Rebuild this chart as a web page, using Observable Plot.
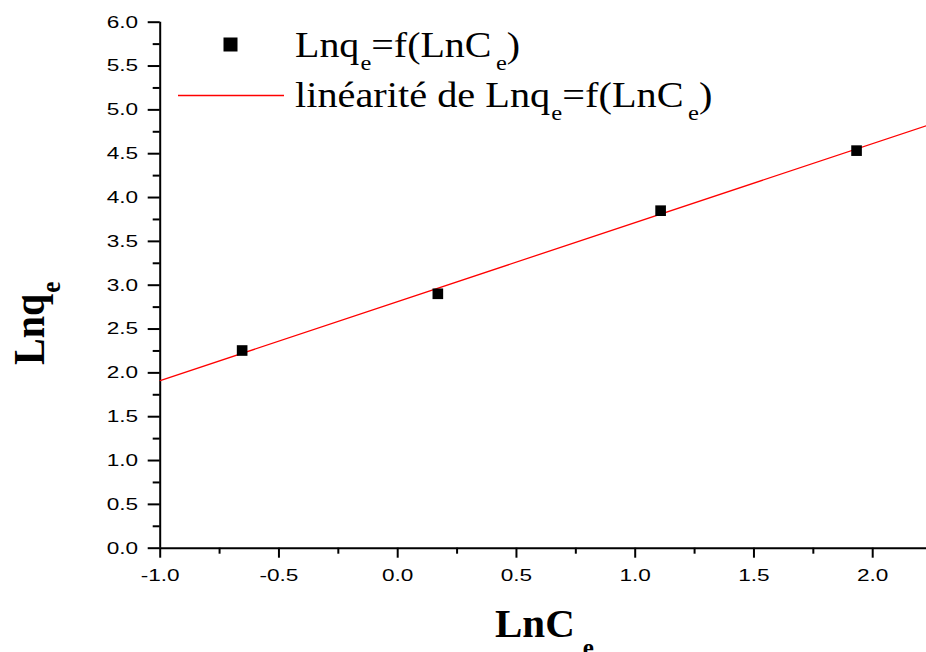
<!DOCTYPE html>
<html>
<head>
<meta charset="utf-8">
<script src="https://cdn.jsdelivr.net/npm/d3@7"></script>
<script src="https://cdn.jsdelivr.net/npm/@observablehq/plot@0.6"></script>
<style>
  html, body { margin: 0; padding: 0; background: #fff; }
  #chart svg { display: block; }
</style>
</head>
<body>
<div id="chart"></div>
<script>
// Data
const lnCe = [-0.655, 0.169, 1.107, 1.932];
const lnQe = [2.255, 2.902, 3.850, 4.535];
// Fitted line endpoints
const fitX = [-1.0, 2.2265];
const fitY = [1.912, 4.82];
// Axis ticks
const xTicks = [-1.0, -0.5, 0.0, 0.5, 1.0, 1.5, 2.0];
const xMinorTicks = [-0.75, -0.25, 0.25, 0.75, 1.25, 1.75];
const yTicks = [0.0, 0.5, 1.0, 1.5, 2.0, 2.5, 3.0, 3.5, 4.0, 4.5, 5.0, 5.5, 6.0];
const yMinorTicks = [0.25, 0.75, 1.25, 1.75, 2.25, 2.75, 3.25, 3.75, 4.25, 4.75, 5.25, 5.75];

const points = lnCe.map((x, i) => ({x, y: lnQe[i]}));
const fit = fitX.map((x, i) => ({x, y: fitY[i]}));

const fmt = d => d3.format(".1f")(d).replace("\u2212", "-");
const tickFont = {fontSize: 17, fontFamily: "'Liberation Sans', Arial, sans-serif"};

const plot = Plot.plot({
  width: 926,
  height: 652,
  marginLeft: 159.7,
  marginRight: 0,
  marginTop: 21.7,
  marginBottom: 104.3,
  style: {background: "#fff", color: "#000", fontFamily: "'Liberation Sans', Arial, sans-serif", fontSize: "17px", overflow: "visible"},
  x: {domain: [-1.0, 2.2265]},
  y: {domain: [0, 6]},
  marks: [
    Plot.axisY({ticks: yTicks, tickSize: 12, tickPadding: 10, strokeWidth: 2, tickFormat: fmt, label: null, ...tickFont, fill: "#000"}),
    Plot.axisY({ticks: yMinorTicks, tickSize: 7, strokeWidth: 2, tickFormat: () => "", label: null}),
    Plot.axisX({ticks: xTicks, tickSize: 10, tickPadding: 11, strokeWidth: 2, tickFormat: fmt, label: null, ...tickFont, fill: "#000"}),
    Plot.axisX({ticks: xMinorTicks, tickSize: 6, strokeWidth: 2, tickFormat: () => "", label: null}),
    Plot.ruleX([-1.0], {stroke: "#000", strokeWidth: 2}),
    Plot.ruleY([0], {stroke: "#000", strokeWidth: 2}),
    Plot.line(fit, {x: "x", y: "y", stroke: "#ff0000", strokeWidth: 1.3}),
    Plot.dot(points, {x: "x", y: "y", symbol: "square", r: 6, fill: "#000", stroke: "none"})
  ]
});

document.getElementById("chart").append(plot);

const svg = d3.select(plot);
const serif = "'Liberation Serif', 'Times New Roman', serif";

// Widen tick labels horizontally (reference glyphs are wide)
svg.selectAll('g[aria-label="y-axis tick label"] text, g[aria-label="x-axis tick label"] text').each(function() {
  const tr = this.getAttribute("transform");
  if (tr) {
    this.setAttribute("transform", tr + " scale(1.33,1)");
  } else {
    const x = +this.getAttribute("x") || 0, y = +this.getAttribute("y") || 0;
    this.setAttribute("x", 0); this.setAttribute("y", 0);
    this.setAttribute("transform", `translate(${x},${y}) scale(1.33,1)`);
  }
});

// Legend
const leg = svg.append("g");
leg.append("rect").attr("x", 223.5).attr("y", 37.5).attr("width", 14).attr("height", 14).attr("fill", "#000");
leg.append("line").attr("x1", 178).attr("x2", 284).attr("y1", 95.5).attr("y2", 95.5)
  .attr("stroke", "#ff0000").attr("stroke-width", 1.3);

function subText(parent, x, y, parts, size, subSize, shift, weight) {
  const t = parent.append("text").attr("x", x).attr("y", y)
    .attr("text-anchor", "start")
    .attr("font-family", serif).attr("font-size", size).attr("font-weight", weight || "normal")
    .attr("fill", "#000");
  let cur = 0;
  parts.forEach(([s, isSub, dx]) => {
    const ts = t.append("tspan").text(s);
    const target = isSub ? shift : 0;
    ts.attr("dy", target - cur);
    if (isSub) ts.attr("font-size", subSize).attr("dx", dx || 0);
    cur = target;
  });
  return t;
}

const l1 = leg.append("g").attr("transform", "translate(295,57) scale(1.11,1)");
subText(l1, 0, 0, [["Lnq", false], ["e", true, 1], ["=f(LnC", false], ["e", true, 4], [")", false]], 36, 22, 13);
const l2 = leg.append("g").attr("transform", "translate(295,107) scale(1.12,1)");
subText(l2, 0, 0, [["linéarité de Lnq", false], ["e", true, 1], ["=f(LnC", false], ["e", true, 4], [")", false]], 36, 22, 13);

// Axis labels
subText(svg, 495, 637, [["LnC", false], ["e", true, 8]], 41, 25, 19, "bold");

const yl = svg.append("g").attr("transform", "translate(44,365) rotate(-90) scale(1,1.12)");
subText(yl, 0, 0, [["Lnq", false], ["e", true, 1]], 40, 25, 14, "bold");
</script>
</body>
</html>
